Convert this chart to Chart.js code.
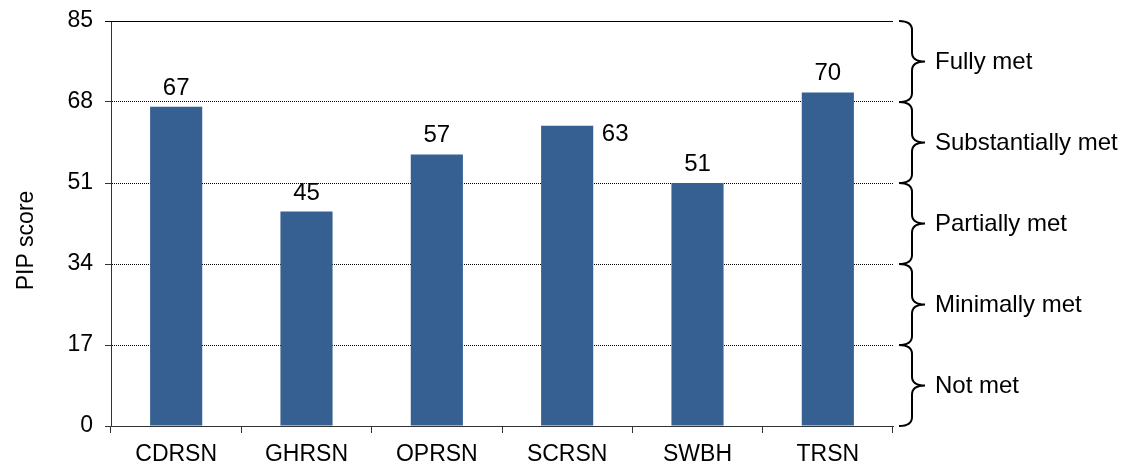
<!DOCTYPE html>
<html>
<head>
<meta charset="utf-8">
<title>PIP score</title>
<script src="https://cdn.jsdelivr.net/npm/chart.js@4/dist/chart.umd.min.js"></script>
<style>
  html, body { margin: 0; padding: 0; background: #fff; }
</style>
</head>
<body>
<canvas id="pipChart" width="1124" height="470"></canvas>
<script>
const sites = ['CDRSN', 'GHRSN', 'OPRSN', 'SCRSN', 'SWBH', 'TRSN'];
const scores = [67, 45, 57, 63, 51, 70];
const yTicks = [0, 17, 34, 51, 68, 85];
const bands = ['Not met', 'Minimally met', 'Partially met', 'Substantially met', 'Fully met'];

const FONT = 'Arial, "Liberation Sans", sans-serif';
const BAR_COLOR = '#376092';

// labels over the bars, braces + band names on the right, solid top line
const extras = {
  id: 'extras',
  afterDraw(chart) {
    const ctx = chart.ctx;
    const area = chart.chartArea;
    const y = chart.scales.y;

    ctx.save();
    // solid top edge at 85
    ctx.strokeStyle = '#000';
    ctx.lineWidth = 1;
    ctx.beginPath();
    ctx.moveTo(area.left - 6, Math.round(area.top) + 0.5);
    ctx.lineTo(area.right, Math.round(area.top) + 0.5);
    ctx.stroke();

    // value labels
    ctx.fillStyle = '#000';
    ctx.font = '24px ' + FONT;
    ctx.textBaseline = 'alphabetic';
    ctx.textAlign = 'center';
    chart.getDatasetMeta(0).data.forEach((bar, i) => {
      if (sites[i] === 'SCRSN') {
        ctx.fillText(String(scores[i]), bar.x + 48, bar.y + 15);
      } else {
        ctx.fillText(String(scores[i]), bar.x, bar.y - 12);
      }
    });

    // braces
    const x0 = area.right + 6;
    const xs = x0 + 13;
    const xt = x0 + 26;
    ctx.lineWidth = 2;
    ctx.strokeStyle = '#000';
    ctx.textAlign = 'left';
    ctx.textBaseline = 'middle';
    ctx.font = '24px ' + FONT;
    for (let i = 0; i < bands.length; i++) {
      const yb = y.getPixelForValue(yTicks[i]);
      const ytop = y.getPixelForValue(yTicks[i + 1]);
      const ym = (yb + ytop) / 2;
      const r = 9;
      ctx.beginPath();
      ctx.moveTo(x0, ytop);
      ctx.quadraticCurveTo(xs, ytop, xs, ytop + r);
      ctx.lineTo(xs, ym - r);
      ctx.quadraticCurveTo(xs, ym, xt, ym);
      ctx.quadraticCurveTo(xs, ym, xs, ym + r);
      ctx.lineTo(xs, yb - r);
      ctx.quadraticCurveTo(xs, yb, x0, yb);
      ctx.stroke();
      ctx.fillText(bands[i], xt + 10, ym + 1);
    }

    // axis title
    ctx.translate(27, (area.top + area.bottom) / 2 + 17);
    ctx.rotate(-Math.PI / 2);
    ctx.textAlign = 'center';
    ctx.textBaseline = 'middle';
    ctx.font = '23px ' + FONT;
    ctx.fillText('PIP score', 0, 0);
    ctx.restore();
  }
};

new Chart(document.getElementById('pipChart'), {
  type: 'bar',
  data: {
    labels: sites,
    datasets: [{
      label: 'PIP score',
      data: scores,
      backgroundColor: BAR_COLOR,
      borderWidth: 0,
      barPercentage: 0.8,
      categoryPercentage: 0.5
    }]
  },
  options: {
    responsive: false,
    devicePixelRatio: 1,
    animation: false,
    layout: { padding: { left: 0, right: 231, top: 21, bottom: 0 } },
    plugins: {
      legend: { display: false },
      tooltip: { enabled: false }
    },
    scales: {
      x: {
        grid: {
          offset: true,
          drawOnChartArea: false,
          drawTicks: true,
          tickLength: 7,
          tickColor: '#333'
        },
        border: { color: '#333' },
        ticks: {
          color: '#000',
          padding: 8,
          font: { family: FONT, size: 23 }
        },
        afterFit(scale) { scale.height = 44; }
      },
      y: {
        min: 0,
        max: 85,
        afterBuildTicks(scale) { scale.ticks = yTicks.map(v => ({ value: v })); },
        grid: {
          color: '#000',
          lineWidth: 1,
          tickLength: 6,
          tickColor: '#333',
          tickBorderDash: []
        },
        border: { color: '#333', dash: [1, 1] },
        ticks: {
          color: '#000',
          padding: 12,
          font: { family: FONT, size: 23 }
        },
        afterFit(scale) {
          scale.width = 111;
          scale.paddingTop = 0;
          scale.paddingBottom = 0;
        }
      }
    }
  },
  plugins: [extras]
});
</script>
</body>
</html>
